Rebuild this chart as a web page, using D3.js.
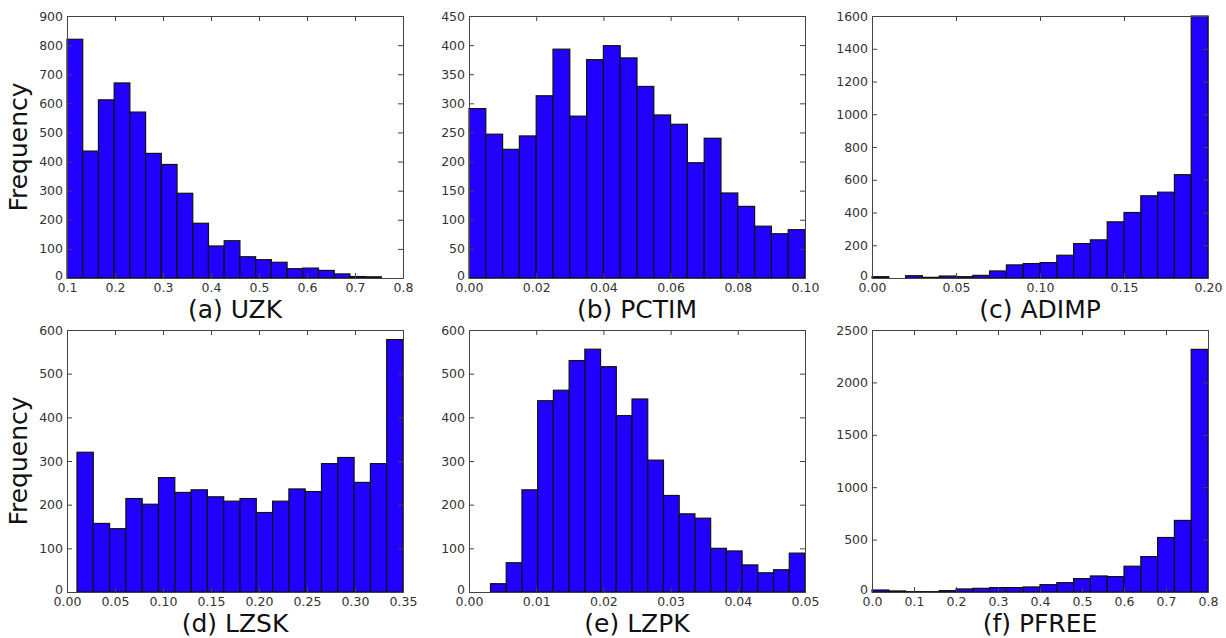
<!DOCTYPE html>
<html>
<head>
<meta charset="utf-8">
<script src="https://cdn.jsdelivr.net/npm/d3@7"></script>
<style>
  body { margin: 0; background: #fff; }
  svg { display: block; }
  .tick text { font-family: "DejaVu Sans", sans-serif; fill: #333; }
</style>
</head>
<body>
<svg id="chart" width="1226" height="638"></svg>
<script>
// histogram counts, 20 bins each
const uzkCounts = [820, 436, 612, 670, 570, 428, 390, 291, 188, 110, 128, 73, 63, 54, 32, 34, 26, 14, 5, 4];
const pctimCounts = [291, 247, 221, 244, 313, 393, 278, 375, 399, 378, 329, 280, 264, 198, 240, 146, 123, 89, 76, 83];
const adimpCounts = [8, 0, 14, 4, 12, 8, 16, 43, 80, 88, 94, 139, 210, 233, 343, 400, 502, 524, 631, 1600];
const lzskCounts = [320, 157, 145, 214, 201, 262, 228, 234, 218, 208, 214, 182, 208, 236, 230, 294, 308, 251, 294, 578];
const lzpkCounts = [19, 67, 234, 438, 462, 530, 556, 516, 404, 442, 302, 221, 179, 169, 100, 94, 62, 44, 51, 89];
const pfreeCounts = [19, 10, 3, 3, 13, 29, 35, 42, 42, 48, 70, 89, 128, 153, 147, 246, 338, 520, 683, 2315];

// bin range of each histogram
const binRanges = [[0.1, 0.755], [0, 0.1], [0, 0.2], [0.0104, 0.35], [0.0032, 0.05], [0, 0.8]];

// axis domains and tick values
const xDomains = [[0.1, 0.8], [0, 0.1], [0, 0.2], [0, 0.35], [0, 0.05], [0, 0.8]];
const yMaxes = [900, 450, 1600, 600, 600, 2500];
const xTickSteps = [0.1, 0.02, 0.05, 0.05, 0.01, 0.1];
const xTickDigits = [1, 2, 2, 2, 2, 1];
const yTickSteps = [100, 50, 200, 100, 100, 500];
const titles = ['(a) UZK', '(b) PCTIM', '(c) ADIMP', '(d) LZSK', '(e) LZPK', '(f) PFREE'];

const allCounts = [uzkCounts, pctimCounts, adimpCounts, lzskCounts, lzpkCounts, pfreeCounts];

const svg = d3.select('#chart');
const colLefts = [67, 469, 872];
const rowTops = [16, 330];
const plotW = 336;
const plotH = 262;
const tickLen = 5;

function ticksFor(domain, step) {
  const out = [];
  const n = Math.round((domain[1] - domain[0]) / step);
  for (let i = 0; i <= n; i++) out.push(+(domain[0] + i * step).toFixed(6));
  return out;
}

allCounts.forEach((counts, i) => {
  const col = i % 3;
  const row = Math.floor(i / 3);
  const g = svg.append('g')
    .attr('transform', `translate(${colLefts[col]},${rowTops[row]})`);

  const x = d3.scaleLinear().domain(xDomains[i]).range([0, plotW]);
  const y = d3.scaleLinear().domain([0, yMaxes[i]]).range([plotH, 0]);

  const [b0, b1] = binRanges[i];
  const bw = (b1 - b0) / counts.length;
  const bins = counts.map((c, k) => ({ x0: b0 + k * bw, x1: b0 + (k + 1) * bw, c }));

  g.append('g')
    .selectAll('rect')
    .data(bins)
    .join('rect')
    .attr('x', d => x(d.x0))
    .attr('width', d => x(d.x1) - x(d.x0))
    .attr('y', d => y(Math.min(d.c, yMaxes[i])))
    .attr('height', d => plotH - y(Math.min(d.c, yMaxes[i])))
    .attr('fill', '#2200ff')
    .attr('stroke', '#111')
    .attr('stroke-width', 1.2);

  const xt = ticksFor(xDomains[i], xTickSteps[i]);
  const yt = ticksFor([0, yMaxes[i]], yTickSteps[i]);
  const fmtX = d3.format(`.${xTickDigits[i]}f`);

  const styleAxis = (sel) => {
    sel.select('.domain').attr('stroke', '#444');
    sel.selectAll('.tick line').attr('stroke', '#444');
    sel.selectAll('.tick text').attr('font-size', 12.5);
  };

  g.append('g')
    .attr('transform', `translate(0,${plotH})`)
    .call(d3.axisBottom(x).tickValues(xt).tickFormat(fmtX).tickSizeInner(-tickLen).tickSizeOuter(0).tickPadding(5))
    .call(styleAxis);

  g.append('g')
    .call(d3.axisTop(x).tickValues(xt).tickFormat('').tickSizeInner(-tickLen).tickSizeOuter(0))
    .call(styleAxis);

  const left = g.append('g')
    .call(d3.axisLeft(y).tickValues(yt).tickFormat(d3.format('d')).tickSizeInner(-tickLen).tickSizeOuter(0).tickPadding(4))
    .call(styleAxis);
  // matplotlib lifts the zero label a little so it clears the x labels
  left.selectAll('.tick text').filter(d => d === 0).attr('dy', '0.1em');

  g.append('g')
    .attr('transform', `translate(${plotW},0)`)
    .call(d3.axisRight(y).tickValues(yt).tickFormat('').tickSizeInner(-tickLen).tickSizeOuter(0))
    .call(styleAxis);

  g.append('text')
    .attr('x', plotW / 2)
    .attr('y', plotH + 40)
    .attr('text-anchor', 'middle')
    .attr('font-family', '"DejaVu Sans", sans-serif')
    .attr('font-size', 25)
    .attr('fill', '#111')
    .text(titles[i]);

  if (col === 0) {
    g.append('text')
      .attr('transform', `translate(${-40},${plotH / 2}) rotate(-90)`)
      .attr('text-anchor', 'middle')
      .attr('font-family', '"DejaVu Sans", sans-serif')
      .attr('font-size', 25)
      .attr('fill', '#111')
      .text('Frequency');
  }
});
</script>
</body>
</html>
